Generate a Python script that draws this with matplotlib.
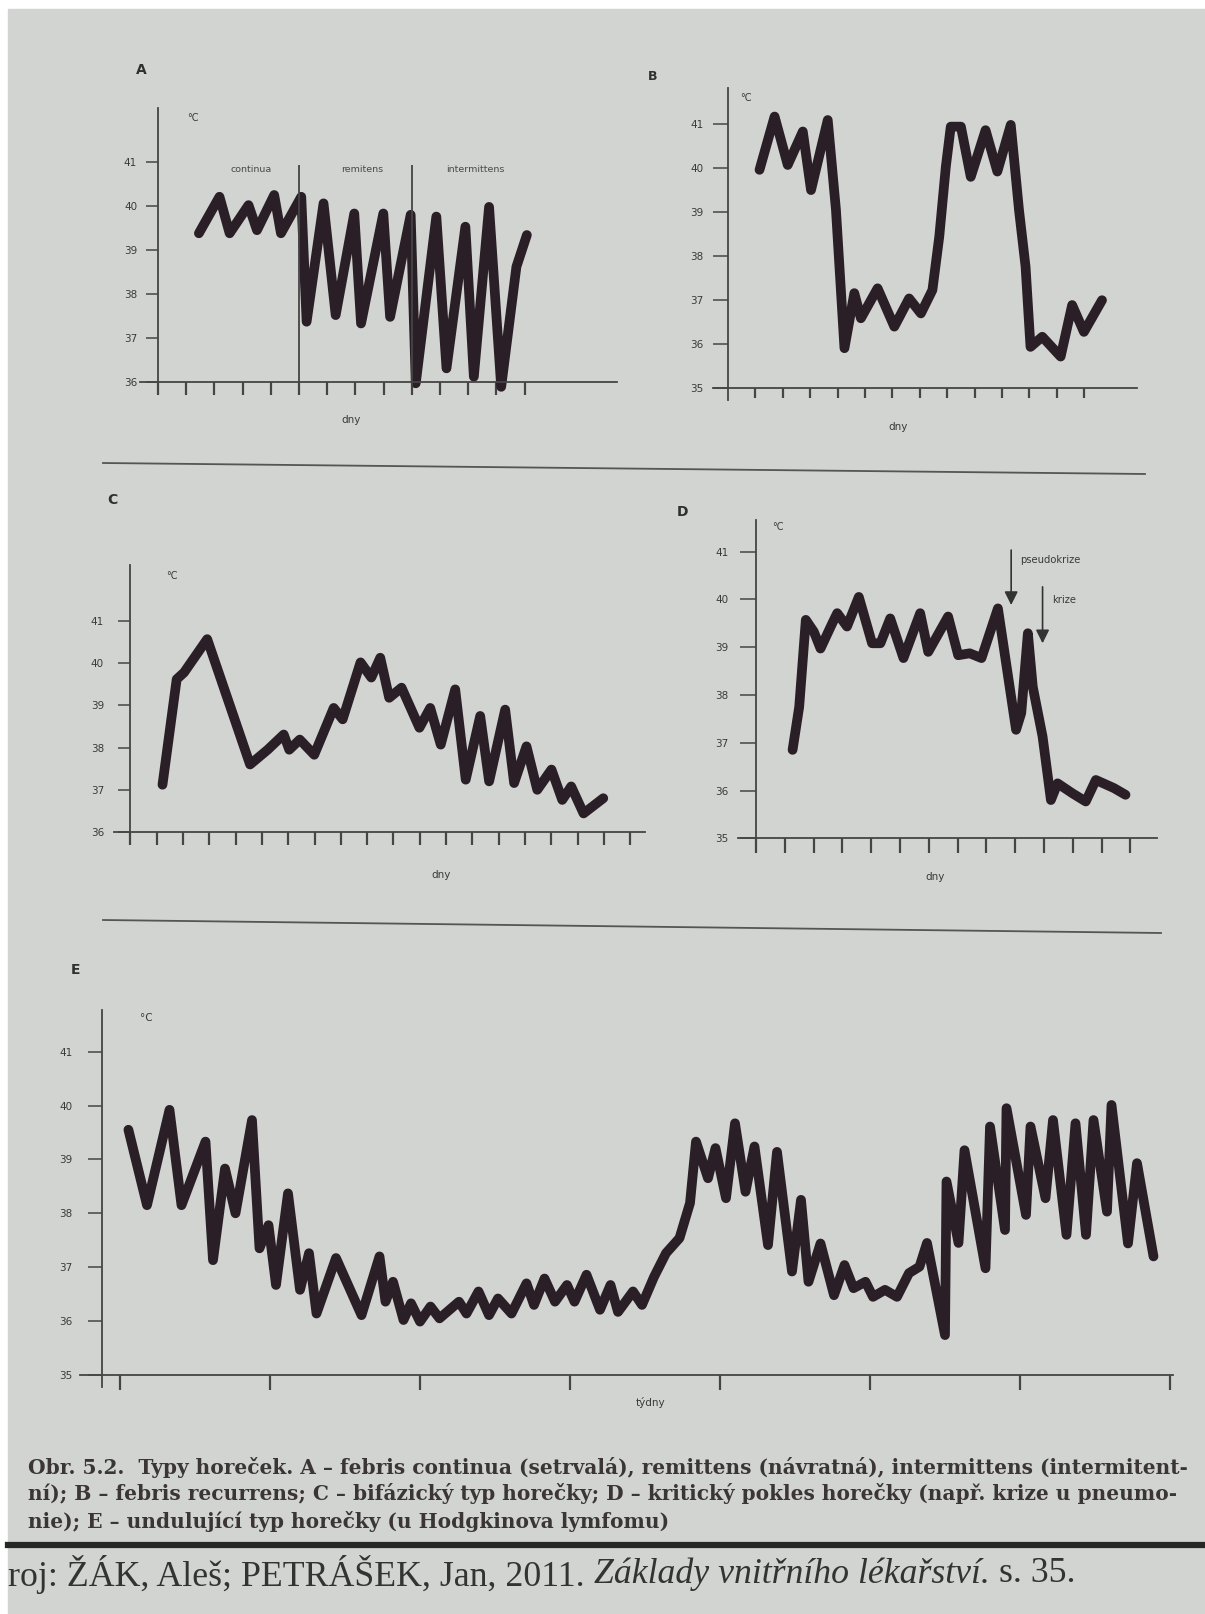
import matplotlib.pyplot as plt
from matplotlib.patches import Rectangle
from matplotlib.lines import Line2D

# ---- data (x in days / weeks, y in °C) ----
a_day = [1.45, 2.18, 2.54, 3.21, 3.51, 4.12, 4.36, 5.08, 5.27, 5.87, 6.30, 6.96, 7.20, 7.99,
         8.23, 8.96, 9.14, 9.87, 10.23, 10.90, 11.20, 11.74, 12.17, 12.71, 13.08]
a_temp = [39.38, 40.21, 39.38, 40.02, 39.45, 40.25, 39.38, 40.21, 37.37, 40.06, 37.52, 39.83, 37.33, 39.83,
          37.48, 39.80, 35.97, 39.76, 36.31, 39.53, 36.12, 39.98, 35.89, 38.62, 39.34]
a_phase_days = [5, 9]
a_phase_names = ["continua", "remitens", "intermittens"]

b_day = [1.15, 1.70, 2.18, 2.73, 3.03, 3.64, 3.94, 4.25, 4.61, 4.85, 5.46, 6.07, 6.61, 7.04, 7.46, 7.71,
         7.95, 8.13, 8.50, 8.86, 9.40, 9.83, 10.32, 10.62, 10.86, 11.04, 11.47, 12.14, 12.56, 12.99, 13.65]
b_temp = [39.96, 41.17, 40.07, 40.83, 39.50, 41.09, 39.05, 35.91, 37.16, 36.59, 37.27, 36.40, 37.04, 36.70,
          37.23, 38.44, 40.03, 40.94, 40.94, 39.80, 40.86, 39.92, 40.98, 39.05, 37.76, 35.94, 36.17, 35.72,
          36.89, 36.28, 37.00]

c_day = [1.22, 1.76, 2.04, 2.92, 4.55, 5.22, 5.83, 6.04, 6.44, 6.99, 7.73, 8.07, 8.75, 9.16, 9.50, 9.84,
         10.31, 10.99, 11.40, 11.80, 12.35, 12.75, 13.30, 13.64, 14.25, 14.59, 15.06, 15.47, 16.01, 16.42,
         16.76, 17.23, 17.98]
c_temp = [37.12, 39.62, 39.78, 40.57, 37.60, 37.95, 38.31, 37.95, 38.19, 37.83, 38.94, 38.67, 40.02, 39.66,
          40.13, 39.18, 39.42, 38.47, 38.94, 38.07, 39.38, 37.24, 38.75, 37.20, 38.90, 37.16, 38.03, 37.00,
          37.48, 36.76, 37.08, 36.44, 36.80]

d_day = [1.27, 1.50, 1.73, 2.01, 2.24, 2.65, 2.82, 3.16, 3.57, 4.03, 4.32, 4.66, 5.12, 5.70, 5.98, 6.67,
         7.02, 7.42, 7.83, 8.40, 9.03, 9.21, 9.44, 9.61, 9.95, 10.24, 10.47, 10.99, 11.45, 11.80, 12.43, 12.83]
d_temp = [36.85, 37.75, 39.57, 39.32, 38.97, 39.50, 39.71, 39.43, 40.05, 39.08, 39.08, 39.60, 38.77, 39.71,
          38.90, 39.64, 38.83, 38.87, 38.77, 39.81, 37.27, 37.62, 39.29, 38.17, 37.13, 35.80, 36.15, 35.94,
          35.77, 36.22, 36.05, 35.91]
d_arrow_day = [8.86, 9.95]
d_arrow_from = [41.03, 40.26]
d_arrow_to = [39.88, 39.08]
d_arrow_text = ["pseudokrize", "krize"]

e_week = [0.056, 0.18, 0.33, 0.41, 0.57, 0.62, 0.70, 0.77, 0.88, 0.93, 0.99, 1.04, 1.12, 1.20, 1.26, 1.31,
          1.44, 1.61, 1.73, 1.77, 1.82, 1.89, 1.94, 2.00, 2.07, 2.13, 2.26, 2.31, 2.39, 2.46, 2.52, 2.61,
          2.71, 2.76, 2.83, 2.90, 2.98, 3.03, 3.11, 3.20, 3.27, 3.32, 3.42, 3.48, 3.56, 3.64, 3.73, 3.80,
          3.84, 3.92, 3.97, 4.04, 4.10, 4.17, 4.23, 4.32, 4.38, 4.48, 4.54, 4.59, 4.67, 4.76, 4.83, 4.89,
          4.97, 5.02, 5.10, 5.18, 5.26, 5.33, 5.38, 5.50, 5.51, 5.59, 5.63, 5.77, 5.80, 5.90, 5.91, 6.04,
          6.07, 6.17, 6.22, 6.31, 6.37, 6.44, 6.49, 6.58, 6.61, 6.72, 6.78, 6.89]
e_temp = [39.55, 38.15, 39.92, 38.15, 39.33, 37.13, 38.83, 38.00, 39.73, 37.35, 37.78, 36.67, 38.37, 36.58,
          37.26, 36.14, 37.17, 36.11, 37.20, 36.36, 36.73, 36.02, 36.33, 35.99, 36.27, 36.05, 36.36, 36.14,
          36.55, 36.11, 36.42, 36.14, 36.70, 36.30, 36.79, 36.36, 36.67, 36.36, 36.86, 36.21, 36.67, 36.17,
          36.55, 36.30, 36.82, 37.26, 37.54, 38.19, 39.33, 38.65, 39.21, 38.28, 39.67, 38.40, 39.24, 37.41,
          39.14, 36.92, 38.25, 36.73, 37.44, 36.48, 37.04, 36.61, 36.73, 36.45, 36.58, 36.45, 36.89, 37.01,
          37.45, 35.74, 38.59, 37.45, 39.17, 36.98, 39.61, 37.69, 39.95, 37.97, 39.61, 38.28, 39.73, 37.60,
          39.67, 37.60, 39.73, 38.03, 40.01, 37.44, 38.93, 37.20]

caption = ["Obr. 5.2.  Typy horeček. A – febris continua (setrvalá), remittens (návratná), intermittens (intermitent-",
           "ní); B – febris recurrens; C – bifázický typ horečky; D – kritický pokles horečky (např. krize u pneumo-",
           "nie); E – undulující typ horečky (u Hodgkinova lymfomu)"]
citation = [("roj: ŽÁK, Aleš; PETRÁŠEK, Jan, 2011. ", "normal"),
            ("Základy vnitřního lékařství.", "italic"),
            (" s. 35.", "normal")]

PAGE = '#d1d4d0'
INK = '#2a1f26'
AXC = '#454545'
TXT = '#3a3a3a'

W, H = 1205, 1614
fig = plt.figure(figsize=(W / 100, H / 100), dpi=100)
fig.patch.set_facecolor('white')
fig.patches.append(Rectangle((8 / W, 0), 1 - 8 / W, 1 - 9 / H, transform=fig.transFigure,
                             color=PAGE, zorder=-10))


def ptext(x, y, s, **kw):
    kw.setdefault('color', TXT)
    kw.setdefault('ha', 'center')
    kw.setdefault('va', 'center')
    return fig.text(x / W, 1 - y / H, s, **kw)


def pline(x0, y0, x1, y1, **kw):
    fig.add_artist(Line2D([x0 / W, x1 / W], [1 - y0 / H, 1 - y1 / H], transform=fig.transFigure, **kw))


def panel(box, x0px, dx, base_px, base_val, dy, ax_top_px, xaxis_px, yticks, xticks,
          ylen, ypad, xlen, yaxis_at=0, long_ticks=(), long_len=25):
    left, right, top, bottom = box
    ax = fig.add_axes([left / W, 1 - bottom / H, (right - left) / W, (bottom - top) / H])
    ax.set_xlim((left - x0px) / dx, (right - x0px) / dx)
    ax.set_ylim(base_val - (bottom - base_px) / dy, base_val + (base_px - top) / dy)
    ax.patch.set_visible(False)
    ax.spines['top'].set_visible(False)
    ax.spines['right'].set_visible(False)
    ax.spines['left'].set_position(('data', yaxis_at))
    ax.spines['bottom'].set_position(('data', base_val))
    ax.spines['left'].set_bounds(base_val - 12 / dy, base_val + (base_px - ax_top_px) / dy)
    ax.spines['bottom'].set_bounds((xaxis_px[0] - x0px) / dx, (xaxis_px[1] - x0px) / dx)
    for s in ['left', 'bottom']:
        ax.spines[s].set_color(AXC)
        ax.spines[s].set_linewidth(1.3)
    ax.set_yticks(yticks)
    ax.set_yticklabels([str(v) for v in yticks])
    ax.tick_params(axis='y', direction='out', length=ylen, width=1.1, pad=ypad,
                   labelsize=7.5, colors=AXC, labelcolor=TXT)
    ax.set_xticks(xticks)
    ax.set_xticklabels([])
    ax.tick_params(axis='x', direction='out', length=xlen, width=1.6, colors=AXC)
    if long_ticks:
        ax.set_xticks(list(long_ticks), minor=True)
        ax.tick_params(axis='x', which='minor', direction='out', length=long_len, width=1.3, colors=AXC)
    return ax


line_kw = dict(color=INK, lw=7, solid_joinstyle='round', solid_capstyle='round')

# ---- A ----
axA = panel((120, 630, 95, 410), 158, 28.2, 382, 36, 44, 108, (140, 617),
            list(range(36, 42)), list(range(0, 14)), 9, 6, 9)
axA.plot(a_day, a_temp, **line_kw)
axA.vlines(a_phase_days, 36 - 12 / 44, 36 + (382 - 165) / 44, color=AXC, lw=1.3, clip_on=False)
for px, name in zip([251, 362, 475], a_phase_names):
    ptext(px, 169, name, fontsize=6.8, color='#4a4a4a')
ptext(141, 70, "A", fontsize=10, weight='bold', color='#303030')
ptext(193, 118, "°C", fontsize=7)
ptext(351, 420, "dny", fontsize=7.5)

# ---- B ----
axB = panel((700, 1160, 80, 430), 728, 27.4, 388.3, 35, 44.05, 88, (713, 1137),
            list(range(35, 42)), list(range(1, 14)), 11, 6.5, 7, long_ticks=[8], long_len=24)
axB.plot(b_day, b_temp, **line_kw)
ptext(653, 77, "B", fontsize=9, weight='bold', color='#303030')
ptext(746, 98, "°C", fontsize=7)
ptext(898, 427, "dny", fontsize=7.5)

# ---- C ----
axC = panel((95, 660, 555, 880), 130.4, 26.3, 832, 36, 42.2, 565, (114, 645),
            list(range(36, 42)), list(range(0, 20)), 9, 10, 9.5, long_ticks=[8, 15], long_len=26)
axC.plot(c_day, c_temp, **line_kw)
ptext(112, 500, "C", fontsize=10, weight='bold', color='#303030')
ptext(172, 576, "°C", fontsize=7)
ptext(441, 875, "dny", fontsize=7.5)

# ---- D ----
axD = panel((700, 1170, 510, 885), 756, 28.8, 838.3, 35, 47.8, 520, (738, 1157),
            list(range(35, 42)), list(range(0, 14)), 11.5, 8.5, 11, long_ticks=[8], long_len=27)
axD.plot(d_day, d_temp, **line_kw)
for xd, y0, y1 in zip(d_arrow_day, d_arrow_from, d_arrow_to):
    axD.annotate('', xy=(xd, y1), xytext=(xd, y0),
                 arrowprops=dict(arrowstyle='-|>', lw=1.2, color='#333333', mutation_scale=20,
                                 shrinkA=0, shrinkB=0))
ptext(1020, 560, d_arrow_text[0], fontsize=7.2, ha='left')
ptext(1052, 600, d_arrow_text[1], fontsize=7.2, ha='left')
ptext(683, 512, "D", fontsize=10, weight='bold', color='#303030')
ptext(778, 527, "°C", fontsize=7)
ptext(935, 877, "dny", fontsize=7.5)

# ---- E ----
axE = panel((55, 1190, 1000, 1395), 120, 150, 1375, 35, 53.9, 1010, (80, 1173),
            list(range(35, 42)), list(range(0, 8)), 10, 11, 11, yaxis_at=-0.12)
axE.plot(e_week, e_temp, **line_kw)
ptext(76, 970, "E", fontsize=10, weight='bold', color='#303030')
ptext(146, 1018, "°C", fontsize=7.5)
ptext(650, 1402, "týdny", fontsize=7.5)

# ---- separators ----
pline(103, 463, 1145, 474, color='#555555', lw=1.3)
pline(103, 920, 1161, 933, color='#555555', lw=1.3)
pline(8, 1545, W, 1545, color='#262626', lw=4.5)

# ---- caption, fitted to the printed line width ----
renderer = fig.canvas.get_renderer()
cap_kw = dict(family='DejaVu Serif', weight='bold', color='#3b3537', ha='left')
t1 = ptext(28, 1467, caption[0], fontsize=12, **cap_kw)
cap_size = 12 * (1187 - 28) / t1.get_window_extent(renderer).width
t1.set_fontsize(cap_size)
for y, line in zip([1494, 1521], caption[1:]):
    ptext(28, y, line, fontsize=cap_size, **cap_kw)

# ---- source line ----
cit_kw = dict(family='Liberation Serif', color='#333333', ha='left')
pieces = []
x = 8
for s, st in citation:
    t = ptext(x, 1574, s, fontsize=24, style=st, **cit_kw)
    x += t.get_window_extent(renderer).width
    pieces.append(t)
scale = (1078 - 8) / (x - 8)
x = 8
for t in pieces:
    t.set_fontsize(24 * scale)
    t.set_x(x / W)
    x += t.get_window_extent(renderer).width

fig.savefig('out.png', dpi=100, facecolor=fig.get_facecolor())
